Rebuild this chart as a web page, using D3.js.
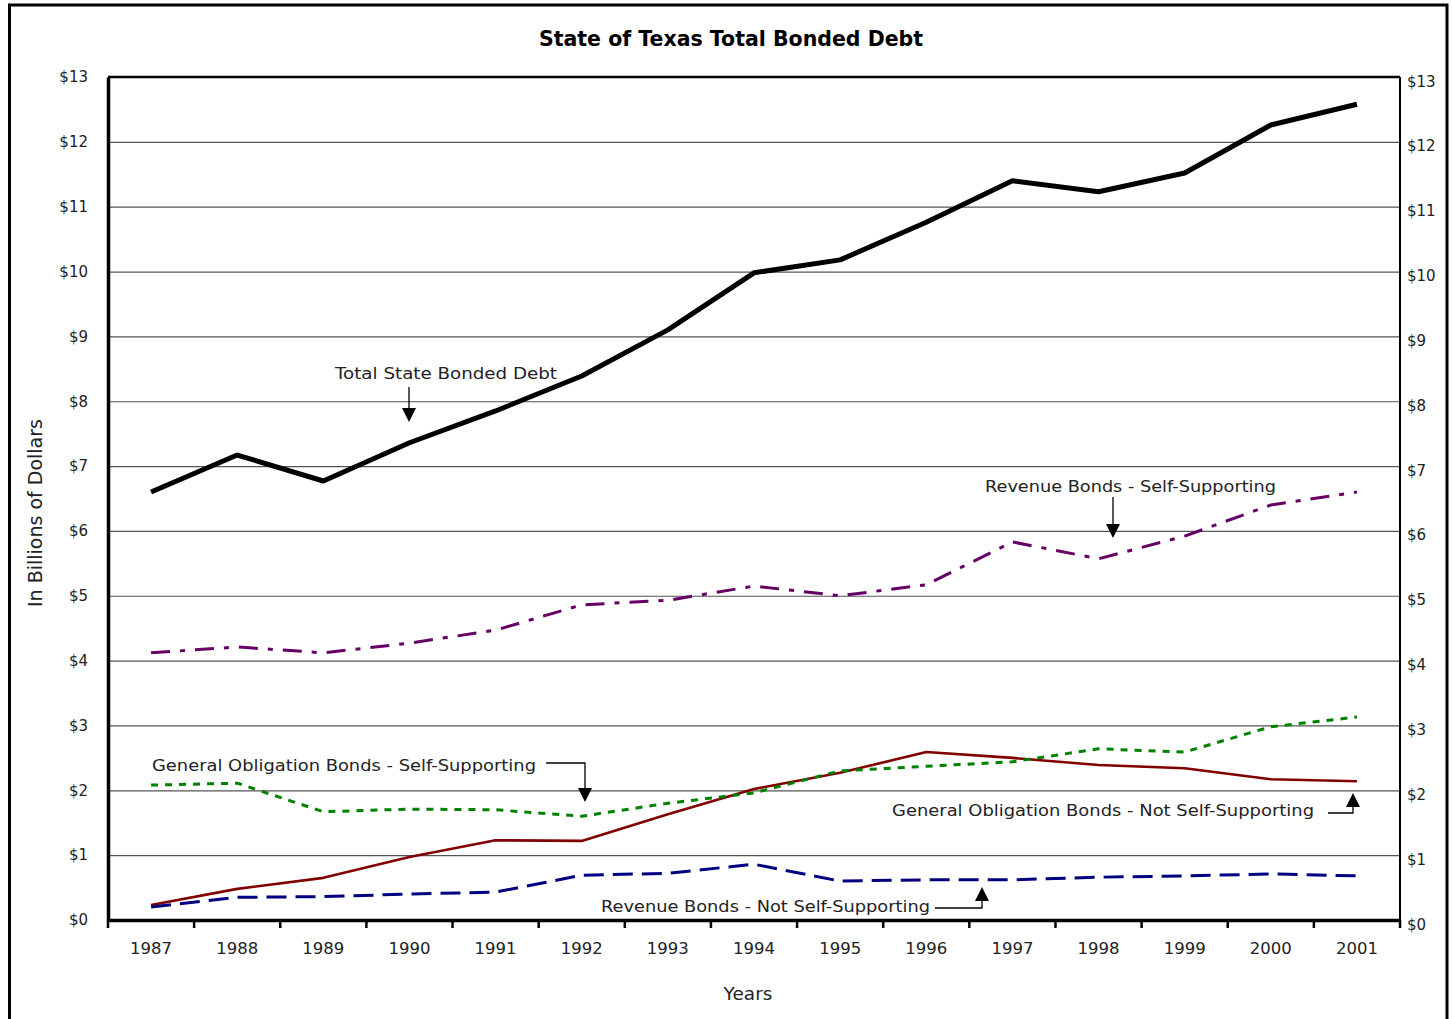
<!DOCTYPE html>
<html><head><meta charset="utf-8">
<script src="https://cdn.jsdelivr.net/npm/d3@7"></script>
<style>
html,body{margin:0;padding:0;background:#fff;}
svg{display:block;}
text{font-family:"DejaVu Sans",sans-serif;fill:#222;}
</style></head>
<body>
<svg id="chart" width="1452" height="1019"></svg>
<script>
const years = ["1987","1988","1989","1990","1991","1992","1993","1994","1995","1996","1997","1998","1999","2000","2001"];
const totalDebt = [6.60,7.17,6.77,7.36,7.85,8.39,9.10,9.98,10.18,10.76,11.40,11.23,11.52,12.26,12.58];
const revSelf = [4.12,4.21,4.12,4.27,4.47,4.86,4.93,5.15,5.00,5.17,5.83,5.57,5.92,6.40,6.60];
const goSelf = [2.08,2.11,1.67,1.71,1.70,1.60,1.80,1.96,2.30,2.37,2.44,2.64,2.59,2.98,3.13];
const goNotSelf = [0.23,0.48,0.65,0.97,1.23,1.22,1.63,2.02,2.27,2.59,2.50,2.39,2.34,2.17,2.14];
const revNotSelf = [0.20,0.35,0.36,0.40,0.43,0.69,0.72,0.86,0.60,0.62,0.62,0.66,0.68,0.71,0.68];
const yTicks = [0,1,2,3,4,5,6,7,8,9,10,11,12,13];

const svg = d3.select("#chart");
const L = 108, R = 1400, T = 77, B = 920;

// outer frame
svg.append("rect").attr("x",9.5).attr("y",5).attr("width",1437.5).attr("height",1030)
  .attr("fill","none").attr("stroke","#000").attr("stroke-width",3);

const x = d3.scaleBand().domain(years).range([L,R]).padding(0);
const y = d3.scaleLinear().domain([0,13]).range([B,T]);
const cx = d => x(d) + x.bandwidth()/2;

// gridlines
svg.append("g").selectAll("line").data(yTicks.filter(v=>v>0&&v<13)).join("line")
  .attr("x1",L).attr("x2",R).attr("y1",d=>y(d)+0.5).attr("y2",d=>y(d)+0.5)
  .attr("stroke","#555").attr("stroke-width",1.2);

// plot border
svg.append("line").attr("x1",L).attr("x2",R).attr("y1",T).attr("y2",T).attr("stroke","#000").attr("stroke-width",2.5);
svg.append("line").attr("x1",R).attr("x2",R).attr("y1",T).attr("y2",B).attr("stroke","#000").attr("stroke-width",2);

// left axis
const yl = svg.append("g").attr("transform",`translate(${L},0)`)
  .call(d3.axisLeft(y).tickValues(yTicks).tickSize(0).tickPadding(20).tickFormat(d=>"$"+d));
yl.select(".domain").attr("stroke","#000").attr("stroke-width",3.5);
yl.selectAll("text").attr("font-size",15).attr("fill","#222").style("font-family","DejaVu Sans");

// right axis
const yr = svg.append("g").attr("transform",`translate(${R},0)`)
  .call(d3.axisRight(y).tickValues(yTicks).tickSize(0).tickPadding(7).tickFormat(d=>"$"+d));
yr.select(".domain").remove();
yr.selectAll("text").attr("font-size",15).attr("fill","#222").attr("dy","0.6em").style("font-family","DejaVu Sans");

// bottom axis with ticks at band boundaries
const xb = svg.append("g").attr("transform",`translate(0,${B})`)
  .call(d3.axisBottom(x).tickSize(0).tickPadding(22));
xb.select(".domain").attr("stroke","#000").attr("stroke-width",3.5);
xb.selectAll("text").attr("font-size",16.5).attr("fill","#222").style("font-family","DejaVu Sans");
const bounds = years.map(d=>x(d)).concat([R]);
svg.append("g").selectAll("line").data(bounds).join("line")
  .attr("x1",d=>d).attr("x2",d=>d).attr("y1",B).attr("y2",B+8)
  .attr("stroke","#000").attr("stroke-width",2.5);

// series
const series = [
  {v:goNotSelf, color:"#800000", w:2.6, dash:null},
  {v:revNotSelf, color:"#000080", w:3, dash:"20,9"},
  {v:goSelf, color:"#008000", w:3, dash:"7,7"},
  {v:revSelf, color:"#660066", w:3, dash:"19,10,5,10"},
  {v:totalDebt, color:"#000", w:5, dash:null}
];
const line = d3.line().x((d,i)=>cx(years[i])).y(d=>y(d));
svg.append("g").selectAll("path").data(series).join("path")
  .attr("d",d=>line(d.v)).attr("fill","none").attr("stroke",d=>d.color)
  .attr("stroke-width",d=>d.w).attr("stroke-dasharray",d=>d.dash)
  .attr("stroke-linejoin","round");

// title & axis titles
svg.append("text").attr("x",731).attr("y",46).attr("text-anchor","middle")
  .attr("font-size",20.5).attr("font-weight","bold").style("fill","#000").text("State of Texas Total Bonded Debt");
svg.append("text").attr("transform","translate(42,513) rotate(-90)").attr("text-anchor","middle")
  .attr("font-size",19).text("In Billions of Dollars");
svg.append("text").attr("x",748).attr("y",1000).attr("text-anchor","middle")
  .attr("font-size",18.5).text("Years");

// annotations
const ann = svg.append("g");
function label(txt, x0, yb, w){
  ann.append("text").attr("x",x0).attr("y",yb).attr("font-size",16.5)
    .attr("textLength",w).attr("lengthAdjust","spacingAndGlyphs").text(txt);
}
function path(pts){
  ann.append("path").attr("d",d3.line()(pts)).attr("fill","none").attr("stroke","#000").attr("stroke-width",1.3);
}
function arrowDown(ax, ay){
  ann.append("path").attr("d",`M${ax-7},${ay-14}L${ax+7},${ay-14}L${ax},${ay}Z`).attr("fill","#000");
}
function arrowUp(ax, ay){
  ann.append("path").attr("d",`M${ax-7},${ay+14}L${ax+7},${ay+14}L${ax},${ay}Z`).attr("fill","#000");
}
label("Total State Bonded Debt",335,379,222);
path([[409,387],[409,410]]); arrowDown(409,422);

label("Revenue Bonds - Self-Supporting",985,492,291);
path([[1113,497],[1113,525]]); arrowDown(1113,538);

label("General Obligation Bonds - Self-Supporting",152,771,384);
path([[546,763],[585,763],[585,789]]); arrowDown(585,802);

label("General Obligation Bonds - Not Self-Supporting",892,816,422);
path([[1328,813],[1353,813],[1353,806]]); arrowUp(1353,793);

label("Revenue Bonds - Not Self-Supporting",601,912,329);
path([[935,908],[982,908],[982,900]]); arrowUp(982,887);
</script>
</body></html>
